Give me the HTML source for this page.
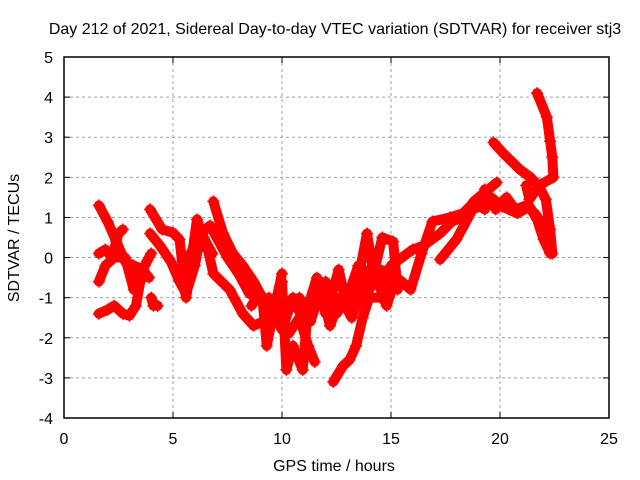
<!DOCTYPE html>
<html><head><meta charset="utf-8"><style>
body{margin:0;background:#fff}
svg{display:block;font-family:"Liberation Sans",sans-serif}
</style></head><body>
<svg id="c" width="640" height="480">
<text x="335" y="34" font-size="16" text-anchor="middle">Day 212 of 2021, Sidereal Day-to-day VTEC variation (SDTVAR) for receiver stj3</text>
<text x="334" y="471" font-size="16" text-anchor="middle">GPS time / hours</text>
<text transform="translate(19,238) rotate(-90)" font-size="16" text-anchor="middle">SDTVAR / TECUs</text>
<g id="grid"></g><g id="marks"></g><g id="axes"></g>
</svg>
<script>
const xTicks=[0,5,10,15,20,25];
const yTicks=[-4,-3,-2,-1,0,1,2,3,4,5];
const track1=[[1.6,1.3],[2.0,0.9],[2.4,0.4],[2.8,-0.1],[3.2,-0.2],[3.6,-0.3],[3.9,-0.5]];
const track2=[[1.6,-1.4],[2.0,-1.3],[2.3,-1.2],[2.7,-1.4],[3.0,-1.45],[3.3,-1.2],[3.5,-0.6],[3.7,-0.2],[4.0,0.1]];
const track3=[[1.6,0.1],[1.9,0.2],[2.2,0.0],[2.5,0.6],[2.7,0.7]];
const track4=[[1.6,-0.6],[1.9,-0.2],[2.3,0.0],[2.8,0.0],[3.2,-0.8],[3.5,-0.3]];
const track5=[[3.95,1.2],[4.5,0.7],[5.0,0.62],[5.3,0.45],[5.6,-1.0],[6.1,0.95],[6.4,0.5],[6.8,0.1]];
const track6=[[3.95,0.6],[4.4,0.3],[4.9,-0.1],[5.3,-0.6],[5.6,-0.9],[6.0,-0.2],[6.2,0.37],[6.6,0.2],[6.85,-0.4],[7.6,-0.8],[8.2,-1.4],[8.7,-1.7],[9.1,-1.6]];
const track7=[[6.85,1.4],[7.3,0.6],[7.75,0.1],[8.2,-0.2],[8.7,-0.6],[9.1,-1.0],[9.3,-2.2],[9.6,-1.4],[10.0,-0.4]];
const track8=[[4.0,-1.0],[4.1,-1.2],[4.3,-1.2]];
const track9=[[10.0,-0.6],[10.2,-2.8],[10.5,-2.2],[10.95,-2.8],[11.2,-1.2],[11.6,-0.5],[12.0,-1.4],[12.3,-0.9],[12.6,-0.3],[13.0,-1.3],[13.4,-0.8],[13.9,0.6],[14.2,-0.4],[14.6,0.5],[15.1,0.4],[15.3,-0.8]];
const track10=[[9.4,-1.0],[10.0,-1.8],[10.5,-1.0],[11.0,-1.6],[11.5,-1.2],[12.0,-0.6],[12.5,-1.4],[13.0,-1.0],[13.5,-0.2],[14.0,-0.8],[14.5,-0.3],[15.0,-0.4],[15.5,-0.6],[15.9,-0.8],[16.4,0.1],[16.9,0.9],[17.7,1.0],[18.3,1.1],[18.8,1.37],[19.3,1.2]];
const track11=[[12.35,-3.1],[12.8,-2.7],[13.1,-2.55],[13.4,-2.2],[13.7,-1.5],[14.0,-1.0],[14.5,-1.0],[15.0,-0.2],[15.5,0.0],[16.0,0.2],[16.5,0.3],[17.25,0.6],[17.8,0.9],[18.3,1.0],[18.8,1.4],[19.85,1.87]];
const track12=[[17.25,-0.05],[18.0,0.45],[18.75,1.2],[19.2,1.3],[19.6,1.5],[20.1,1.27],[20.8,1.1],[21.35,1.27],[21.7,0.95],[22.0,0.45],[22.3,0.1]];
const track13=[[19.7,2.87],[20.15,2.6],[20.9,2.2],[21.4,2.0],[21.8,1.77],[22.1,1.45],[22.3,0.7],[22.4,0.1]];
const track14=[[21.7,4.1],[22.15,3.5],[22.3,2.9],[22.4,2.5],[22.45,2.0]];
const track15=[[21.2,1.8],[21.35,1.45],[21.8,1.8],[22.45,2.0]];
const track16=[[10.8,-1.0],[11.3,-1.6],[11.8,-0.8],[12.2,-1.7],[12.7,-1.0],[13.2,-1.5],[13.6,-0.9],[14.0,-0.3],[14.4,-0.6],[14.8,-1.2],[15.1,-0.7]];
const track17=[[8.6,-1.2],[9.0,-0.9],[9.4,-1.6],[9.8,-1.2],[10.3,-1.9],[10.8,-1.5],[11.2,-2.2],[11.5,-2.6]];
const track18=[[5.8,0.1],[6.3,0.6],[6.7,0.8],[7.1,0.4],[7.5,0.0],[8.0,-0.4],[8.5,-0.9]];
const track19=[[19.3,1.7],[19.8,1.2],[20.3,1.5],[20.7,1.2],[21.2,1.3],[21.6,1.1],[22.0,0.8],[22.3,0.3]];
const tracks=[track1,track2,track3,track4,track5,track6,track7,track8,track9,track10,track11,track12,track13,track14,track15,track16,track17,track18,track19];
const L=64,R=609,T=57,B=418,ns="http://www.w3.org/2000/svg";
const xs=t=>L+(t-0)/(25-0)*(R-L);
const ys=v=>B-(v+4)/(9)*(B-T);
function mk(tag,at,p){const e=document.createElementNS(ns,tag);for(const k in at)e.setAttribute(k,at[k]);p.appendChild(e);return e;}
const grid=document.getElementById('grid'),marks=document.getElementById('marks'),axes=document.getElementById('axes');
xTicks.forEach(t=>{
  if(t>0&&t<25){const g=mk('line',{x1:xs(t),x2:xs(t),y1:T,y2:B,stroke:'#a0a0a0','stroke-dasharray':'3,3'},grid);
  
  }
  mk('line',{x1:xs(t),x2:xs(t),y1:B,y2:B-6,stroke:'#000'},axes);
  mk('line',{x1:xs(t),x2:xs(t),y1:T,y2:T+6,stroke:'#000'},axes);
  const tx=mk('text',{x:xs(t),y:B+26,'font-size':16,'text-anchor':'middle'},axes);tx.textContent=t;
  
  
});
yTicks.forEach(v=>{
  if(v>-4&&v<5){const g=mk('line',{x1:L,x2:R,y1:ys(v),y2:ys(v),stroke:'#a0a0a0','stroke-dasharray':'3,3'},grid);
  
  }
  mk('line',{x1:L,x2:L+6,y1:ys(v),y2:ys(v),stroke:'#000'},axes);
  mk('line',{x1:R,x2:R-6,y1:ys(v),y2:ys(v),stroke:'#000'},axes);
  const tx=mk('text',{x:L-11,y:ys(v)+6,'font-size':16,'text-anchor':'end'},axes);tx.textContent=v;
  
  
});
const fr=mk('rect',{x:L,y:T,width:R-L,height:B-T,fill:'none',stroke:'#000','stroke-width':1.5},axes);


tracks.forEach((tr,i)=>{
  const pl=mk('polyline',{points:tr.map(p=>xs(p[0])+','+ys(p[1])).join(' '),fill:'none',stroke:'#ff0000','stroke-width':10,'stroke-linejoin':'round','stroke-linecap':'round'},marks);
  
  
  tr.forEach(p=>{
    const x=xs(p[0]),y=ys(p[1]);
    const m=mk('path',{d:`M${x-6},${y}H${x+6}M${x},${y-6}V${y+6}`,stroke:'#ff0000','stroke-width':1.5},marks);
    
    
  });
});
</script>
</body></html>
